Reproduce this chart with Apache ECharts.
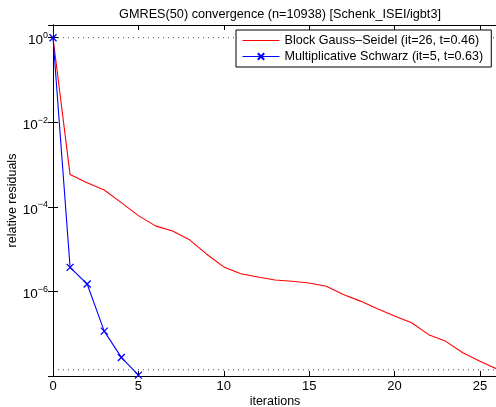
<!DOCTYPE html>
<html>
<head>
<meta charset="utf-8">
<script src="https://cdn.jsdelivr.net/npm/echarts@6/dist/echarts.min.js"></script>
<style>
  html, body { margin: 0; padding: 0; background: #fff; }
  #chart { width: 496px; height: 407px; }
</style>
</head>
<body>
<div id="chart"></div>
<script>
// iteration index 0..26
const iters = [0,1,2,3,4,5,6,7,8,9,10,11,12,13,14,15,16,17,18,19,20,21,22,23,24,25,26]
// Block Gauss-Seidel residuals
const bgs = [1, 5.8e-4, 3.7e-4, 2.5e-4, 1.26e-4, 6.2e-5, 3.55e-5, 2.7e-5, 1.66e-5, 7.6e-6,
  3.8e-6, 2.63e-6, 2.19e-6, 1.86e-6, 1.74e-6, 1.58e-6, 1.32e-6, 8.5e-7, 5.9e-7, 3.9e-7,
  2.63e-7, 1.82e-7, 9.5e-8, 6.6e-8, 3.55e-8, 2.24e-8, 1.45e-8]
// Multiplicative Schwarz residuals
const ms = [1, 3.7e-6, 1.5e-6, 1.15e-7, 2.75e-8, 1.05e-8]
// dotted reference levels (initial residual and tolerance)
const tolLines = [1, 1.4e-8]
const xTicks = [0, 5, 10, 15, 20, 25]
const yLabelExp = [0, -2, -4, -6]

const font = 'Liberation Sans, Arial, sans-serif'
const chart = echarts.init(document.getElementById('chart'))

const supLabel = (v) => {
  const e = Math.round(Math.log10(v))
  if (Math.abs(Math.log10(v) - e) > 1e-6 || !yLabelExp.includes(e)) return ''
  return '{b|10}{s|' + (e < 0 ? '\u2212' + (-e) : e) + '}'
}

const bgsName = 'Block Gauss\u2013Seidel (it=26, t=0.46)'
const msName = 'Multiplicative Schwarz (it=5, t=0.63)'
// plain line legend icon (tiny corner dots keep the bar from being stretched)
const lineIcon = 'path://M0 0h0.05v0.05h-0.05zM0 3.5h37v1h-37zM36.95 7.95h0.05v0.05h-0.05z'

const tolSeries = tolLines.map((v, k) => ({
  name: 'tol' + k,
  type: 'line',
  data: [[iters[0], v], [iters[iters.length - 1], v]],
  showSymbol: false,
  silent: true,
  lineStyle: { color: '#444', type: [1, 4], width: 1 },
  z: 1
}))

chart.setOption({
  animation: false,
  title: {
    text: 'GMRES(50) convergence (n=10938) [Schenk_ISEI/igbt3]',
    left: 275, top: 3, textAlign: 'center',
    textStyle: { fontFamily: font, fontSize: 12.7, fontWeight: 'normal', color: '#000' }
  },
  legend: {
    orient: 'vertical',
    left: 236, top: 30,
    backgroundColor: '#fff',
    borderColor: '#000', borderWidth: 1,
    padding: [4, 8, 4, 6],
    itemWidth: 37, itemHeight: 8, itemGap: 3,
    textStyle: { fontFamily: font, fontSize: 12.6, color: '#000' },
    data: [
      { name: bgsName, icon: lineIcon },
      { name: msName, lineStyle: { width: 1 } }
    ]
  },
  grid: { left: 53, top: 25, right: -1, bottom: 31, outerBoundsMode: 'none' },
  xAxis: [{
    type: 'value', min: 0, max: 26, interval: 5,
    name: 'iterations', nameLocation: 'middle', nameGap: 19, nameMoveOverlap: false,
    nameTextStyle: { fontFamily: font, fontSize: 12.5, color: '#000' },
    axisLine: { onZero: false, lineStyle: { color: '#000', width: 1 } },
    axisTick: { inside: true, length: 5, lineStyle: { color: '#000' } },
    axisLabel: { fontFamily: font, fontSize: 13, color: '#000', margin: 4,
      formatter: v => xTicks.includes(v) ? String(v) : '' },
    splitLine: { show: false }
  }, {
    type: 'value', position: 'top', min: 0, max: 26, interval: 5,
    axisLine: { show: true, onZero: false, lineStyle: { color: '#000', width: 1 } },
    axisTick: { inside: true, length: 5, lineStyle: { color: '#000' } },
    axisLabel: { show: false }, splitLine: { show: false }
  }],
  yAxis: [{
    type: 'log', logBase: 10, min: 1e-8, max: 2, interval: 2,
    name: 'relative residuals', nameLocation: 'middle', nameGap: 34, nameMoveOverlap: false,
    nameTextStyle: { fontFamily: font, fontSize: 12.5, color: '#000' },
    axisLine: { show: true, lineStyle: { color: '#000', width: 1 } },
    axisTick: { show: true, inside: true, length: 5, lineStyle: { color: '#000' } },
    axisLabel: {
      margin: 5, formatter: supLabel,
      rich: {
        b: { fontFamily: font, fontSize: 13.5, color: '#000', padding: [6, 0, 0, 0] },
        s: { fontFamily: font, fontSize: 9, color: '#000', padding: [0, 0, 4, 0] }
      }
    },
    splitLine: { show: false }
  }, {
    type: 'log', logBase: 10, min: 1e-8, max: 2, interval: 2, position: 'right',
    axisLine: { show: true, lineStyle: { color: '#000', width: 1 } },
    axisTick: { show: true, inside: true, length: 5, lineStyle: { color: '#000' } },
    axisLabel: { show: false }, splitLine: { show: false }
  }],
  series: tolSeries.concat([{
    name: bgsName,
    type: 'line',
    data: iters.map((x, i) => [x, bgs[i]]),
    showSymbol: false,
    lineStyle: { color: '#ff0000', width: 1.1 },
    itemStyle: { color: '#ff0000' },
    z: 3
  }, {
    name: msName,
    type: 'line',
    data: iters.slice(0, ms.length).map((x, i) => [x, ms[i]]),
    symbol: 'path://M0 0L10 10M10 0L0 10', symbolSize: 7,
    lineStyle: { color: '#0000ff', width: 1.1 },
    itemStyle: { color: '#0000ff', borderColor: '#0000ff', borderWidth: 1.3 },
    clip: false,
    z: 4
  }])
})
</script>
</body>
</html>
